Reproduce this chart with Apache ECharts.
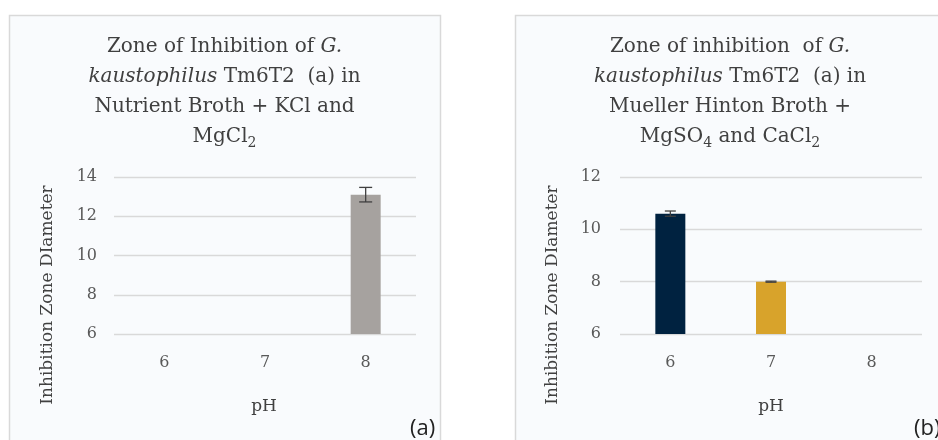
<!DOCTYPE html>
<html>
<head>
<meta charset="utf-8">
<script src="https://cdn.jsdelivr.net/npm/echarts@6/dist/echarts.min.js"></script>
<style>
html,body{margin:0;padding:0;background:#ffffff;}
#chart{width:938px;height:440px;}
</style>
</head>
<body>
<div id="chart"></div>
<script>
const categories = ['6', '7', '8'];
const valuesA = [null, null, 13.1];
const errorsA = [null, null, 0.37];
const valuesB = [10.6, 8.0, null];
const errorsB = [0.1, 0.02, null];
const colorsA = ['#a6a29f', '#a6a29f', '#a6a29f'];
const colorsB = ['#002240', '#d8a32b', '#888888'];
const yTicksA = [6, 8, 10, 12, 14];
const yTicksB = [6, 8, 10, 12];

const SERIF = '"DejaVu Serif", serif';
const chart = echarts.init(document.getElementById('chart'), null, {renderer: 'canvas'});

function errData(vals, errs) {
  return vals.map((v, i) => v == null ? null : [i, v, errs[i]]).filter(d => d);
}
function errRender(capW) {
  return function (params, api) {
    const x = api.value(0), m = api.value(1), e = api.value(2);
    const top = api.coord([x, m + e]);
    const bot = api.coord([x, m - e]);
    const st = {stroke: '#404040', lineWidth: 1.3};
    return {type: 'group', children: [
      {type: 'line', shape: {x1: top[0], y1: top[1], x2: bot[0], y2: bot[1]}, style: st},
      {type: 'line', shape: {x1: top[0] - capW / 2, y1: top[1], x2: top[0] + capW / 2, y2: top[1]}, style: st},
      {type: 'line', shape: {x1: bot[0] - capW / 2, y1: bot[1], x2: bot[0] + capW / 2, y2: bot[1]}, style: st}
    ]};
  };
}

const titleRich = {
  n: {fontFamily: SERIF, fontSize: 20, fontWeight: 'normal', color: '#404040', lineHeight: 30},
  i: {fontFamily: SERIF, fontSize: 20, fontWeight: 'normal', fontStyle: 'italic', color: '#404040', lineHeight: 30},
  s: {fontFamily: SERIF, fontSize: 14, fontWeight: 'normal', color: '#404040', lineHeight: 30, padding: [12, 0, 0, 0]}
};

function axisLabel() {
  return {fontFamily: SERIF, fontSize: 16, color: '#595959'};
}
const nameStyle = {fontFamily: SERIF, fontSize: 17, fill: '#404040', textAlign: 'center', textVerticalAlign: 'middle'};

const option = {
  animation: false,
  backgroundColor: '#ffffff',
  graphic: [
    {type: 'rect', z: -10, shape: {x: 9.5, y: 15.5, width: 431, height: 440}, style: {fill: '#f9fbfd', stroke: '#d9d9d9', lineWidth: 1.5}},
    {type: 'rect', z: -10, shape: {x: 515.5, y: 15.5, width: 440, height: 440}, style: {fill: '#f9fbfd', stroke: '#d9d9d9', lineWidth: 1.5}},
    {type: 'text', x: 48, y: 295, rotation: Math.PI / 2, style: Object.assign({text: 'Inhibition Zone DIameter'}, nameStyle)},
    {type: 'text', x: 553, y: 295, rotation: Math.PI / 2, style: Object.assign({text: 'Inhibition Zone DIameter'}, nameStyle)},
    {type: 'text', x: 264, y: 407, style: Object.assign({text: 'pH'}, nameStyle)},
    {type: 'text', x: 771, y: 407, style: Object.assign({text: 'pH'}, nameStyle)},
    {type: 'text', x: 410, y: 429, style: {text: '(a)', fontFamily: '"Open Sans", sans-serif', fontSize: 22, fill: '#222222', textAlign: 'left', textVerticalAlign: 'middle'}},
    {type: 'text', x: 914, y: 429, style: {text: '(b)', fontFamily: '"Open Sans", sans-serif', fontSize: 22, fill: '#222222', textAlign: 'left', textVerticalAlign: 'middle'}}
  ],
  title: [
    {left: 224.5, top: 32, textAlign: 'center', padding: 0,
     text: '{n|Zone of Inhibition of }{i|G.}\n{i|kaustophilus}{n| Tm6T2  (a) in}\n{n|Nutrient Broth + KCl and}\n{n|MgCl}{s|2}',
     textStyle: {rich: titleRich, lineHeight: 30, fontSize: 20, fontWeight: 'normal'}},
    {left: 730, top: 32, textAlign: 'center', padding: 0,
     text: '{n|Zone of inhibition  of }{i|G.}\n{i|kaustophilus}{n| Tm6T2  (a) in}\n{n|Mueller Hinton Broth +}\n{n|MgSO}{s|4}{n| and CaCl}{s|2}',
     textStyle: {rich: titleRich, lineHeight: 30, fontSize: 20, fontWeight: 'normal'}}
  ],
  grid: [
    {left: 114, top: 177, width: 302, height: 157},
    {left: 620, top: 177, width: 302, height: 157}
  ],
  xAxis: [0, 1].map(g => ({
    type: 'category', gridIndex: g, data: categories,
    axisLine: {show: false}, axisTick: {show: false},
    axisLabel: Object.assign(axisLabel(), {margin: 21})
  })),
  yAxis: [
    {type: 'value', gridIndex: 0, min: yTicksA[0], max: yTicksA[yTicksA.length - 1], interval: 2,
     axisLine: {show: false}, axisTick: {show: false},
     axisLabel: Object.assign(axisLabel(), {margin: 17}),
     splitLine: {lineStyle: {color: '#d9d9d9', width: 1.3}}},
    {type: 'value', gridIndex: 1, min: yTicksB[0], max: yTicksB[yTicksB.length - 1], interval: 2,
     axisLine: {show: false}, axisTick: {show: false},
     axisLabel: Object.assign(axisLabel(), {margin: 19}),
     splitLine: {lineStyle: {color: '#d9d9d9', width: 1.3}}}
  ],
  series: [
    {type: 'bar', xAxisIndex: 0, yAxisIndex: 0, barWidth: 30,
     data: valuesA.map((v, i) => ({value: v, itemStyle: {color: colorsA[i]}}))},
    {type: 'bar', xAxisIndex: 1, yAxisIndex: 1, barWidth: 30,
     data: valuesB.map((v, i) => ({value: v, itemStyle: {color: colorsB[i]}}))},
    {type: 'custom', xAxisIndex: 0, yAxisIndex: 0, renderItem: errRender(13), data: errData(valuesA, errorsA), z: 5},
    {type: 'custom', xAxisIndex: 1, yAxisIndex: 1, renderItem: errRender(11), data: errData(valuesB, errorsB), z: 5}
  ]
};
chart.setOption(option);
</script>
</body>
</html>
